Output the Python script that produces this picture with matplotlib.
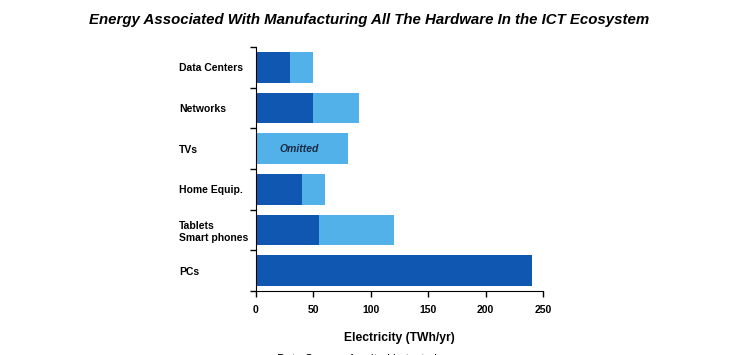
import matplotlib.pyplot as plt

categories = ["Data Centers", "Networks", "TVs", "Home Equip.", "Tablets\nSmart phones", "PCs"]
dark_part = [30, 50, 0, 40, 55, 240]
totals = [50, 90, 80, 60, 120, 240]
omitted = ["", "", "Omitted", "", "", ""]
x_ticks = [0, 50, 100, 150, 200, 250]

DARK = "#0f57b0"
LIGHT = "#52b1e8"

plt.rcParams["font.family"] = ["Liberation Sans", "DejaVu Sans"]

fig = plt.figure(figsize=(7.39, 3.55), dpi=100)
ax = fig.add_axes([0.3464, 0.1803, 0.3884, 0.6873])

ypos = list(range(len(categories)))
light_part = [t - d for t, d in zip(totals, dark_part)]
ax.barh(ypos, dark_part, height=0.76, color=DARK, linewidth=0)
ax.barh(ypos, light_part, left=dark_part, height=0.76, color=LIGHT, linewidth=0)

for y, txt, tot in zip(ypos, omitted, totals):
    if txt:
        ax.text(tot / 2 - 2, y, txt, ha="center", va="center", fontsize=7.5,
                fontweight="bold", fontstyle="italic", color="#1b2a44")

ax.set_ylim(len(categories) - 0.5, -0.5)
ax.set_xlim(0, 250)
ax.set_xticks(x_ticks)
ax.set_xticklabels([str(v) for v in x_ticks], fontsize=7.5, fontweight="bold")

# boundaries get ticks, centers get labels
ax.set_yticks([i - 0.5 for i in range(len(categories) + 1)])
ax.set_yticklabels([])
ax.set_yticks(ypos, minor=True)
ax.set_yticklabels(categories, minor=True, fontsize=7.5, fontweight="bold", ha="left")
ax.tick_params(axis="y", which="minor", length=0, pad=55.5)
ax.tick_params(axis="y", which="major", length=4, width=1)
ax.tick_params(axis="x", length=4, width=1, pad=6)

for s in ["top", "right"]:
    ax.spines[s].set_visible(False)

ax.set_xlabel("Electricity (TWh/yr)", fontsize=8.7, fontweight="bold", labelpad=12)
fig.text(0.5, 0.945, "Energy Associated With Manufacturing All The Hardware In the ICT Ecosystem",
         ha="center", va="center", fontsize=10.8, fontweight="bold", fontstyle="italic")
fig.text(0.498, -0.015, "Data Source: As cited in text above", ha="center", va="center", fontsize=8.5)

fig.savefig("out.png", dpi=100)
